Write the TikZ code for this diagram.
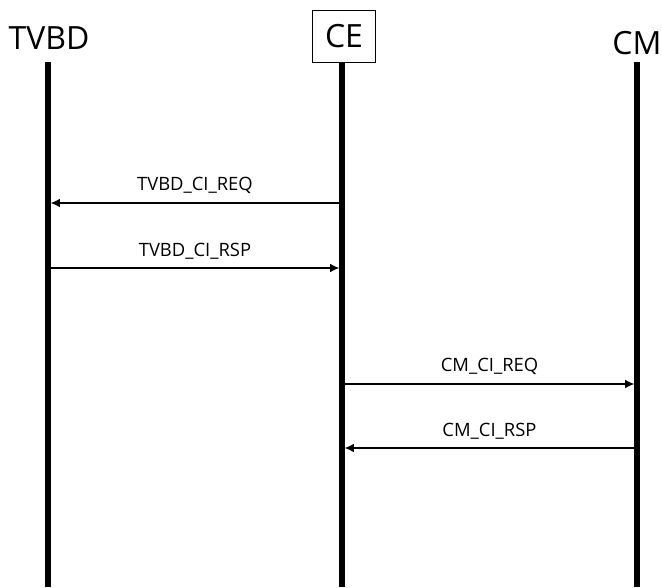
\documentclass[tikz,border=0pt]{standalone}
\usepackage{fontspec}
\setmainfont{Open Sans}
\usetikzlibrary{arrows.meta, positioning}

\tikzset{
  head/.style={font=\fontsize{24}{26}\selectfont, inner sep=3pt},
  lifeline/.style={line width=3.8pt},
  msg/.style={line width=1.1pt, -{Latex[length=7pt,width=6.5pt]}, shorten >=1.9pt},
  msglabel/.style={font=\fontsize{13.8}{15}\selectfont, above=3pt}
}

\begin{document}
\begin{tikzpicture}[x=0.75pt,y=-0.75pt]
        \useasboundingbox (0,0) rectangle (662,587);
        % heads
        \node[head] (tvbd) at (49,38) {TVBD};
        \node[head,draw,line width=0.5pt,minimum width=47pt,minimum height=39pt] (ce) at (344,36) {CE};
        \node[head] (cm) at (637,43) {CM};
        % lifelines
        \coordinate (tvbdtop) at (48,62);
        \coordinate (cetop) at (342,62);
        \coordinate (cmtop) at (637,62);
        \coordinate (tvbdbot) at (48,587);
        \coordinate (cebot) at (342,587);
        \coordinate (cmbot) at (637,587);
        \draw[lifeline] (tvbdtop) -- (tvbdbot);
        \draw[lifeline] (cetop) -- (cebot);
        \draw[lifeline] (cmtop) -- (cmbot);
        % messages
        \coordinate (m1a) at (342,203); \coordinate (m1b) at (48,203);
        \coordinate (m2a) at (48,268);  \coordinate (m2b) at (342,268);
        \coordinate (m3a) at (342,384); \coordinate (m3b) at (637,384);
        \coordinate (m4a) at (637,448); \coordinate (m4b) at (342,448);
        \draw[msg] (m1a) -- node[msglabel]{TVBD\_CI\_REQ} (m1b);
        \draw[msg] (m2a) -- node[msglabel]{TVBD\_CI\_RSP} (m2b);
        \draw[msg] (m3a) -- node[msglabel]{CM\_CI\_REQ} (m3b);
        \draw[msg] (m4a) -- node[msglabel]{CM\_CI\_RSP} (m4b);
\end{tikzpicture}
\end{document}
